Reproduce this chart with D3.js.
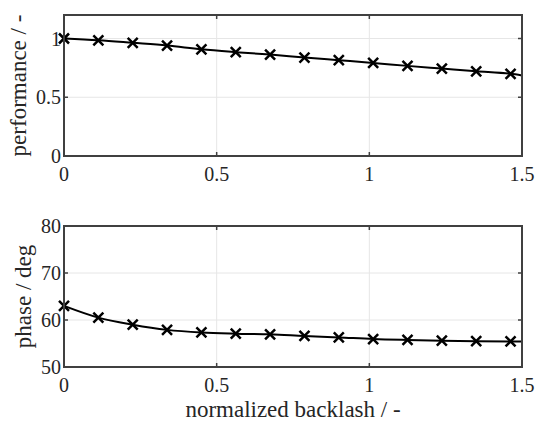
<!DOCTYPE html>
<html>
<head>
<meta charset="utf-8">
<script src="https://cdn.jsdelivr.net/npm/d3@7"></script>
<style>
  body { margin: 0; background: #fff; }
</style>
</head>
<body>
<div id="chart"></div>
<script>
var fontFam = "Liberation Serif";

// marker positions (normalized backlash)
var backlash = [0, 0.1125, 0.225, 0.3375, 0.45, 0.5625, 0.675, 0.7875, 0.9, 1.0125, 1.125, 1.2375, 1.35, 1.4625, 1.5];
var performance = [1.0, 0.985, 0.963, 0.94, 0.908, 0.884, 0.863, 0.838, 0.815, 0.792, 0.767, 0.744, 0.721, 0.699, 0.686];
var phase = [63.0, 60.5, 59.0, 57.9, 57.35, 57.1, 56.95, 56.6, 56.3, 55.95, 55.75, 55.6, 55.5, 55.45, 55.45];
var nMarkers = 14; // last point is only line end

var xTicks = [0, 0.5, 1, 1.5];
var perfTicks = [0, 0.5, 1];
var phaseTicks = [50, 60, 70, 80];

var left = 64, right = 522;

var svg = d3.select("#chart").append("svg")
  .attr("width", 535)
  .attr("height", 423);

var xScale = d3.scaleLinear().domain([0, 1.5]).range([left, right]);

function addText(g) {
  return g.append("text")
    .attr("font-family", fontFam)
    .attr("fill", "#262626");
}

function panel(top, bottom, yDomain, yTicks, values, ylabel, labelX) {
  var yScale = d3.scaleLinear().domain(yDomain).range([bottom, top]);
  var g = svg.append("g");

  // grid
  xTicks.slice(1, -1).forEach(function (d) {
    g.append("line").attr("x1", xScale(d)).attr("x2", xScale(d))
      .attr("y1", top).attr("y2", bottom)
      .attr("stroke", "#e6e6e6").attr("stroke-width", 1);
  });
  yTicks.filter(d => d > yDomain[0] && d < yDomain[1]).forEach(function (d) {
    g.append("line").attr("y1", yScale(d)).attr("y2", yScale(d))
      .attr("x1", left).attr("x2", right)
      .attr("stroke", "#e6e6e6").attr("stroke-width", 1);
  });

  // inward ticks on all four sides
  var tl = 4;
  xTicks.forEach(function (d) {
    g.append("line").attr("x1", xScale(d)).attr("x2", xScale(d)).attr("y1", bottom).attr("y2", bottom - tl)
      .attr("stroke", "#404040").attr("stroke-width", 1.5);
    g.append("line").attr("x1", xScale(d)).attr("x2", xScale(d)).attr("y1", top).attr("y2", top + tl)
      .attr("stroke", "#404040").attr("stroke-width", 1.5);
  });
  yTicks.forEach(function (d) {
    g.append("line").attr("y1", yScale(d)).attr("y2", yScale(d)).attr("x1", left).attr("x2", left + tl)
      .attr("stroke", "#404040").attr("stroke-width", 1.5);
    g.append("line").attr("y1", yScale(d)).attr("y2", yScale(d)).attr("x1", right).attr("x2", right - tl)
      .attr("stroke", "#404040").attr("stroke-width", 1.5);
  });

  // data line
  var line = d3.line()
    .x((d, i) => xScale(backlash[i]))
    .y(d => yScale(d))
    .curve(d3.curveMonotoneX);
  g.append("path").datum(values)
    .attr("d", line)
    .attr("fill", "none")
    .attr("stroke", "#000")
    .attr("stroke-width", 2);

  // x markers
  var s = 5;
  values.slice(0, nMarkers).forEach(function (d, i) {
    var cx = xScale(backlash[i]), cy = yScale(d);
    g.append("path")
      .attr("d", "M" + (cx - s) + "," + (cy - s) + "L" + (cx + s) + "," + (cy + s) +
                 "M" + (cx - s) + "," + (cy + s) + "L" + (cx + s) + "," + (cy - s))
      .attr("stroke", "#000").attr("stroke-width", 2.5).attr("fill", "none");
  });

  // box
  g.append("rect")
    .attr("x", left).attr("y", top)
    .attr("width", right - left).attr("height", bottom - top)
    .attr("fill", "none").attr("stroke", "#404040").attr("stroke-width", 2);

  // tick labels
  xTicks.forEach(function (d) {
    addText(g).attr("x", xScale(d)).attr("y", bottom + 25)
      .attr("text-anchor", "middle").attr("font-size", 20)
      .text(d);
  });
  yTicks.forEach(function (d) {
    addText(g).attr("x", left - 3).attr("y", yScale(d) + 7)
      .attr("text-anchor", "end").attr("font-size", 20)
      .text(d);
  });

  // y label
  addText(g)
    .attr("transform", "translate(" + labelX + "," + ((top + bottom) / 2) + ") rotate(-90)")
    .attr("text-anchor", "middle").attr("font-size", 23)
    .text(ylabel);
}

panel(15, 156, [0, 1.2], perfTicks, performance, "performance / -", 26);
panel(226, 367, [50, 80], phaseTicks, phase, "phase / deg", 31);

addText(svg)
  .attr("x", (left + right) / 2).attr("y", 417)
  .attr("text-anchor", "middle").attr("font-size", 23)
  .text("normalized backlash / -");
</script>
</body>
</html>
